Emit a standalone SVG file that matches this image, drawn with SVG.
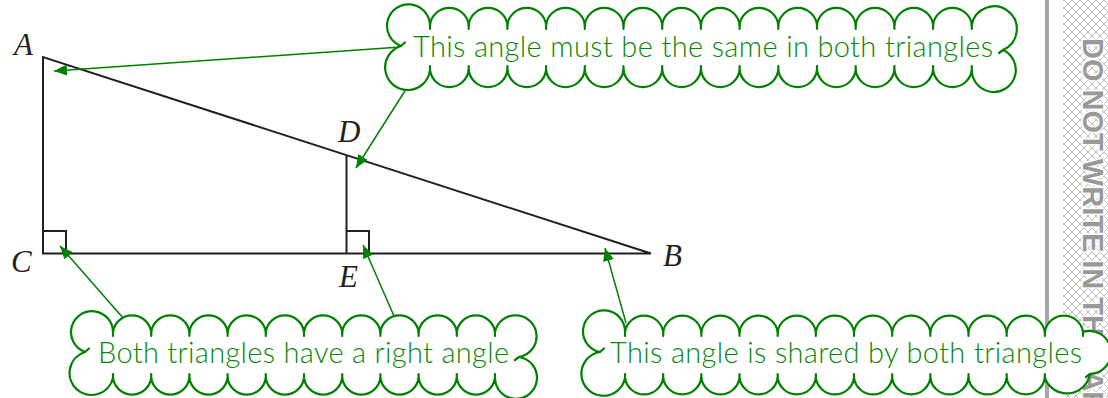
<svg xmlns="http://www.w3.org/2000/svg" width="1108" height="398" viewBox="0 0 1108 398">
<style>
.fig{fill:none;stroke:#231f20;stroke-width:2;stroke-linejoin:miter}
.lbl{font-family:"Liberation Serif",serif;font-style:italic;font-size:31px;fill:#231f20}
.con{fill:none;stroke:#008000;stroke-width:1.5;marker-end:url(#ah)}
.cloud{fill:#fff;stroke:#008000;stroke-width:2.2;stroke-linejoin:round;stroke-linecap:round}
.ct{font-family:Lato,"Noto Sans",sans-serif;font-weight:300;font-size:29px;fill:#0a870a}
</style>
<defs>
<marker id="ah" markerUnits="userSpaceOnUse" markerWidth="13" markerHeight="11" refX="13" refY="5.5" orient="auto">
<path d="M0,0L13,5.5L0,11Z" fill="#008000"/>
</marker>
<pattern id="hatch" width="8" height="8" patternUnits="userSpaceOnUse">
<path d="M-1,-1L9,9M9,-1L-1,9" stroke="#b4b4b4" stroke-width="0.9" fill="none"/>
</pattern>
</defs>
<rect width="1108" height="398" fill="#fff"/>
<g id="margin">
<rect x="1063" y="0" width="45" height="398" fill="url(#hatch)"/>
<line x1="1047" y1="0" x2="1047" y2="398" stroke="#a6a6a8" stroke-width="4"/>
<text transform="translate(1083,38) rotate(90)" font-family="Liberation Sans,sans-serif" font-weight="bold" font-size="29" fill="#999999" stroke="#fff" stroke-width="3" paint-order="stroke">DO NOT WRITE IN THIS AREA</text>
</g>
<g id="triangle">
<path class="fig" d="M43,57L43,253.5L651,253.5L43,57Z"/>
<path class="fig" d="M346.5,155.5L346.5,253.5"/>
<path class="fig" d="M43,231L66,231L66,253.5"/>
<path class="fig" d="M346.5,231L369,231L369,253.5"/>
</g>
<g id="label-A"><text class="lbl" x="14" y="55">A</text></g>
<g id="label-B"><text class="lbl" x="663" y="266">B</text></g>
<g id="label-C"><text class="lbl" x="11" y="272">C</text></g>
<g id="label-D"><text class="lbl" x="338" y="142">D</text></g>
<g id="label-E"><text class="lbl" x="339" y="287">E</text></g>
<g id="connectors">
<path class="con" d="M401,47L54,71"/>
<path class="con" d="M408,86L356,168"/>
<path class="con" d="M124,319L60,246"/>
<path class="con" d="M394,316L363,245"/>
<path class="con" d="M626,323L605,248"/>
</g>
<g id="callout-same-angle">
<path class="cloud" d="M401,46A21.5,21.5 0 1 1 430,25A19.5,19.5 0 0 1 468.7,25A19.5,19.5 0 0 1 507.4,25A19.5,19.5 0 0 1 546.1,25A19.5,19.5 0 0 1 584.8,25A19.5,19.5 0 0 1 623.5,25A19.5,19.5 0 0 1 662.2,25A19.5,19.5 0 0 1 700.9,25A19.5,19.5 0 0 1 739.6,25A19.5,19.5 0 0 1 778.3,25A19.5,19.5 0 0 1 817,25A19.5,19.5 0 0 1 855.7,25A19.5,19.5 0 0 1 894.4,25A19.5,19.5 0 0 1 933.1,25A19.5,19.5 0 0 1 971.8,25A22.7,22.7 0 1 1 1003,50A22,22 0 1 1 971.8,70A19.5,19.5 0 0 1 933.1,70A19.5,19.5 0 0 1 894.4,70A19.5,19.5 0 0 1 855.7,70A19.5,19.5 0 0 1 817,70A19.5,19.5 0 0 1 778.3,70A19.5,19.5 0 0 1 739.6,70A19.5,19.5 0 0 1 700.9,70A19.5,19.5 0 0 1 662.2,70A19.5,19.5 0 0 1 623.5,70A19.5,19.5 0 0 1 584.8,70A19.5,19.5 0 0 1 546.1,70A19.5,19.5 0 0 1 507.4,70A19.5,19.5 0 0 1 468.7,70A19.5,19.5 0 0 1 430,70A22.5,22.5 0 1 1 401,46Z"/>
<path class="cloud" d="M430,25v4M468.7,25v4M507.4,25v4M546.1,25v4M584.8,25v4M623.5,25v4M662.2,25v4M700.9,25v4M739.6,25v4M778.3,25v4M817,25v4M855.7,25v4M894.4,25v4M933.1,25v4M971.8,25v4M430,70v-4M468.7,70v-4M507.4,70v-4M546.1,70v-4M584.8,70v-4M623.5,70v-4M662.2,70v-4M700.9,70v-4M739.6,70v-4M778.3,70v-4M817,70v-4M855.7,70v-4M894.4,70v-4M933.1,70v-4M971.8,70v-4M401,46l4,-3.5M1003,50l-4,3"/>
<text class="ct" x="413" y="57" textLength="580">This angle must be the same in both triangles</text>
</g>
<g id="callout-right-angle">
<path class="cloud" d="M85,352A21,21 0 1 1 113,332A19.3,19.3 0 0 1 151.2,332A19.3,19.3 0 0 1 189.4,332A19.3,19.3 0 0 1 227.6,332A19.3,19.3 0 0 1 265.8,332A19.3,19.3 0 0 1 304,332A19.3,19.3 0 0 1 342.2,332A19.3,19.3 0 0 1 380.4,332A19.3,19.3 0 0 1 418.6,332A19.3,19.3 0 0 1 456.8,332A19.3,19.3 0 0 1 495,332A21,21 0 1 1 519,357A21,21 0 1 1 495,378A19.3,19.3 0 0 1 456.8,378A19.3,19.3 0 0 1 418.6,378A19.3,19.3 0 0 1 380.4,378A19.3,19.3 0 0 1 342.2,378A19.3,19.3 0 0 1 304,378A19.3,19.3 0 0 1 265.8,378A19.3,19.3 0 0 1 227.6,378A19.3,19.3 0 0 1 189.4,378A19.3,19.3 0 0 1 151.2,378A19.3,19.3 0 0 1 113,378A22,22 0 1 1 85,352Z"/>
<path class="cloud" d="M113,332v4M151.2,332v4M189.4,332v4M227.6,332v4M265.8,332v4M304,332v4M342.2,332v4M380.4,332v4M418.6,332v4M456.8,332v4M495,332v4M113,378v-4M151.2,378v-4M189.4,378v-4M227.6,378v-4M265.8,378v-4M304,378v-4M342.2,378v-4M380.4,378v-4M418.6,378v-4M456.8,378v-4M495,378v-4M85,352l4,-3.5M519,357l-4,3"/>
<text class="ct" x="98" y="363" textLength="411">Both triangles have a right angle</text>
</g>
<g id="callout-shared-angle">
<path class="cloud" d="M600,352A21,21 0 1 1 625,332A19.3,19.3 0 0 1 663.17,332A19.3,19.3 0 0 1 701.33,332A19.3,19.3 0 0 1 739.5,332A19.3,19.3 0 0 1 777.67,332A19.3,19.3 0 0 1 815.83,332A19.3,19.3 0 0 1 854,332A19.3,19.3 0 0 1 892.17,332A19.3,19.3 0 0 1 930.33,332A19.3,19.3 0 0 1 968.5,332A19.3,19.3 0 0 1 1006.67,332A19.3,19.3 0 0 1 1044.83,332A19.3,19.3 0 0 1 1083,332A21.5,21.5 0 1 1 1090,374A23.5,23.5 0 0 1 1044.83,378A19.3,19.3 0 0 1 1006.67,378A19.3,19.3 0 0 1 968.5,378A19.3,19.3 0 0 1 930.33,378A19.3,19.3 0 0 1 892.17,378A19.3,19.3 0 0 1 854,378A19.3,19.3 0 0 1 815.83,378A19.3,19.3 0 0 1 777.67,378A19.3,19.3 0 0 1 739.5,378A19.3,19.3 0 0 1 701.33,378A19.3,19.3 0 0 1 663.17,378A19.3,19.3 0 0 1 625,378A22,22 0 1 1 600,352Z"/>
<path class="cloud" d="M625,332v4M663.17,332v4M701.33,332v4M739.5,332v4M777.67,332v4M815.83,332v4M854,332v4M892.17,332v4M930.33,332v4M968.5,332v4M1006.67,332v4M1044.83,332v4M1083,332v4M625,378v-4M663.17,378v-4M701.33,378v-4M739.5,378v-4M777.67,378v-4M815.83,378v-4M854,378v-4M892.17,378v-4M930.33,378v-4M968.5,378v-4M1006.67,378v-4M1044.83,378v-4M600,352l4,-3.5M1090,374l-4,3"/>
<text class="ct" x="610" y="363" textLength="472">This angle is shared by both triangles</text>
</g>
</svg>
